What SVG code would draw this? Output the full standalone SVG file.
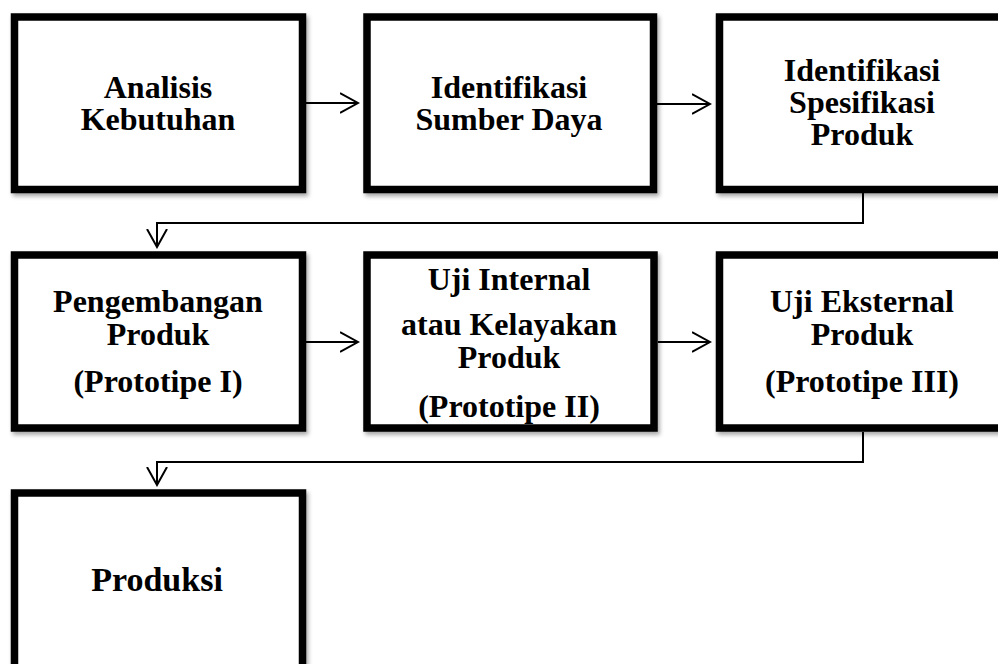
<svg xmlns="http://www.w3.org/2000/svg" width="998" height="664" viewBox="0 0 998 664">
<defs>
<filter id="sh" x="-10%" y="-10%" width="130%" height="130%">
<feDropShadow dx="2" dy="3" stdDeviation="2" flood-color="#000" flood-opacity="0.35"/>
</filter>
<marker id="ah" markerWidth="20" markerHeight="24" refX="18" refY="11" orient="auto" markerUnits="userSpaceOnUse">
<path d="M0,1 L18,11 L0,21" fill="none" stroke="#000" stroke-width="2"/>
</marker>
<style>
.box{fill:#fff;stroke:#000;stroke-width:7.5;filter:url(#sh)}
.t{font-family:"Liberation Serif","Times New Roman",serif;font-weight:bold;font-size:32px;fill:#000;text-anchor:middle}
.c{fill:none;stroke:#000;stroke-width:2;marker-end:url(#ah)}
</style>
</defs>
<rect width="998" height="664" fill="#fff"/>
<g id="n1"><rect class="box" x="14.5" y="17" width="288" height="172.5"/>
<text class="t" x="158" y="98">Analisis</text><text class="t" x="158" y="130">Kebutuhan</text></g>
<g id="n2"><rect class="box" x="367" y="17" width="286.5" height="172.5"/>
<text class="t" x="509" y="98">Identifikasi</text><text class="t" x="509" y="130">Sumber Daya</text></g>
<g id="n3"><rect class="box" x="719.5" y="17" width="300" height="172.5"/>
<text class="t" x="862" y="81">Identifikasi</text><text class="t" x="862" y="113">Spesifikasi</text><text class="t" x="862" y="145">Produk</text></g>
<g id="n4"><rect class="box" x="14.5" y="255" width="288" height="173"/>
<text class="t" x="158" y="312">Pengembangan</text><text class="t" x="158" y="345">Produk</text><text class="t" x="158" y="392">(Prototipe I)</text></g>
<g id="n5"><rect class="box" x="367" y="255" width="287" height="173"/>
<text class="t" x="509" y="290">Uji Internal</text><text class="t" x="509" y="335">atau Kelayakan</text><text class="t" x="509" y="368">Produk</text><text class="t" x="509" y="417">(Prototipe II)</text></g>
<g id="n6"><rect class="box" x="719.5" y="255" width="300" height="173"/>
<text class="t" x="862" y="312">Uji Eksternal</text><text class="t" x="862" y="345">Produk</text><text class="t" x="862" y="392">(Prototipe III)</text></g>
<g id="n7"><rect class="box" x="14.5" y="493" width="288" height="200"/>
<text class="t" x="157" y="591" style="font-size:34px">Produksi</text></g>
<g id="connectors">
<path class="c" d="M306,103 H358"/>
<path class="c" d="M657,104 H710"/>
<path class="c" d="M306,342 H358"/>
<path class="c" d="M658,342 H710"/>
<path class="c" d="M863,193 V223 H157 V247"/>
<path class="c" d="M863,432 V462 H157 V485"/>
</g>
</svg>
